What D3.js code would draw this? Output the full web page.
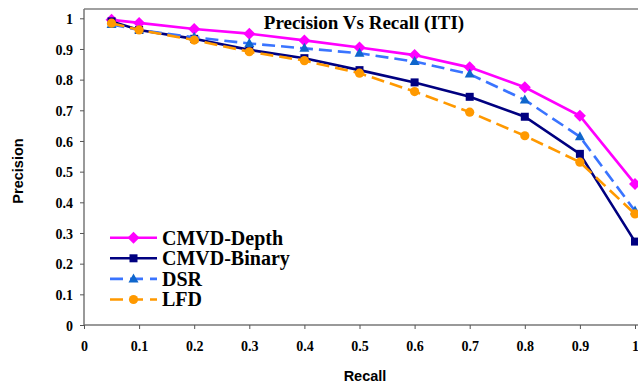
<!DOCTYPE html>
<html>
<head>
<meta charset="utf-8">
<script src="https://cdn.jsdelivr.net/npm/d3@7"></script>
<style>
body { margin: 0; background: #fff; }
svg { display: block; }
</style>
</head>
<body>
<svg width="638" height="383"></svg>
<script>
var recall = [0.05, 0.1, 0.2, 0.3, 0.4, 0.5, 0.6, 0.7, 0.8, 0.9, 1.0];
var depth  = [0.995, 0.985, 0.965, 0.95, 0.928, 0.905, 0.88, 0.84, 0.775, 0.682, 0.46];
var binary = [0.99, 0.962, 0.933, 0.897, 0.87, 0.831, 0.791, 0.744, 0.679, 0.558, 0.272];
var dsr    = [0.98, 0.962, 0.938, 0.918, 0.902, 0.886, 0.859, 0.818, 0.734, 0.614, 0.372];
var lfd    = [0.984, 0.962, 0.929, 0.891, 0.862, 0.821, 0.761, 0.694, 0.617, 0.531, 0.362];
var names  = ["CMVD-Depth", "CMVD-Binary", "DSR", "LFD"];
var xTicks = [0, 0.1, 0.2, 0.3, 0.4, 0.5, 0.6, 0.7, 0.8, 0.9, 1];
var yTicks = [0, 0.1, 0.2, 0.3, 0.4, 0.5, 0.6, 0.7, 0.8, 0.9, 1];

var svg = d3.select("svg");
var x = d3.scaleLinear().domain([0, 1]).range([84, 635]);
var y = d3.scaleLinear().domain([0, 1]).range([325, 18.3]);

var serif = "'Liberation Serif', 'Times New Roman', serif";
var sans = "'Liberation Sans', Arial, sans-serif";

// frame top
svg.append("line")
    .attr("x1", 84).attr("x2", 638).attr("y1", 9).attr("y2", 9)
    .attr("stroke", "#808080").attr("stroke-width", 1.5);

// axes
var yAxis = svg.append("g")
    .attr("transform", "translate(84,0)")
    .call(d3.axisLeft(y).tickValues(yTicks).tickSize(4).tickFormat(d3.format("~g")));
var xAxis = svg.append("g")
    .attr("transform", "translate(0,325)")
    .call(d3.axisBottom(x).tickValues(xTicks).tickSize(4).tickFormat(d3.format("~g")));

yAxis.select(".domain").attr("d", "M0,9V325").attr("stroke", "#777").attr("stroke-width", 1.5);
xAxis.select(".domain").attr("d", "M84,0H638").attr("stroke", "#777").attr("stroke-width", 1.5);
svg.selectAll(".tick line").attr("stroke", "#555");
yAxis.selectAll(".tick text")
    .attr("x", -11).attr("dy", "0.36em")
    .attr("font-family", serif).attr("font-weight", "bold").attr("font-size", 14).attr("fill", "#000");
xAxis.selectAll(".tick text")
    .attr("y", 16).attr("dy", "0.71em")
    .attr("font-family", serif).attr("font-weight", "bold").attr("font-size", 14).attr("fill", "#000");

// titles
svg.append("text")
    .attr("x", 364).attr("y", 29)
    .attr("text-anchor", "middle")
    .attr("font-family", serif).attr("font-weight", "bold").attr("font-size", 19)
    .text("Precision Vs Recall (ITI)");
svg.append("text")
    .attr("x", 365).attr("y", 381)
    .attr("text-anchor", "middle")
    .attr("font-family", sans).attr("font-weight", "bold").attr("font-size", 14.5)
    .text("Recall");
svg.append("text")
    .attr("transform", "translate(23,171) rotate(-90)")
    .attr("text-anchor", "middle")
    .attr("font-family", sans).attr("font-weight", "bold").attr("font-size", 14.5)
    .text("Precision");

var series = [
    {name: names[0], values: depth,  line: "#ff00ff", fill: "#ff00ff", dash: null,   shape: "diamond"},
    {name: names[1], values: binary, line: "#000080", fill: "#000080", dash: null,   shape: "square"},
    {name: names[2], values: dsr,    line: "#3a74ff", fill: "#0f66cc", dash: "13,6", shape: "triangle"},
    {name: names[3], values: lfd,    line: "#ff9900", fill: "#ff9900", dash: "13,6", shape: "circle"}
];

function marker(g, s, cx, cy) {
    if (s.shape == "diamond")
        g.append("path").attr("d", "M" + cx + "," + (cy - 6) + "l6,6l-6,6l-6,-6z").attr("fill", s.fill);
    else if (s.shape == "square")
        g.append("rect").attr("x", cx - 4).attr("y", cy - 4).attr("width", 8).attr("height", 8).attr("fill", s.fill);
    else if (s.shape == "triangle")
        g.append("path").attr("d", "M" + cx + "," + (cy - 5.5) + "l5,9h-10z").attr("fill", s.fill);
    else
        g.append("circle").attr("cx", cx).attr("cy", cy).attr("r", 4.6).attr("fill", s.fill);
}

var line = d3.line()
    .x(function(d, i) { return x(recall[i]); })
    .y(function(d) { return y(d); });

series.forEach(function(s) {
    var g = svg.append("g");
    g.append("path")
        .attr("d", line(s.values))
        .attr("fill", "none")
        .attr("stroke", s.line)
        .attr("stroke-width", 2.6)
        .attr("stroke-dasharray", s.dash);
    s.values.forEach(function(v, i) {
        marker(g, s, x(recall[i]), y(v));
    });
});

// legend
series.forEach(function(s, i) {
    var ly = 237.7 + i * 20.6;
    var g = svg.append("g");
    g.append("line")
        .attr("x1", 110).attr("x2", 157).attr("y1", ly).attr("y2", ly)
        .attr("stroke", s.line).attr("stroke-width", 2.6)
        .attr("stroke-dasharray", s.dash ? "13,7" : null);
    marker(g, s, 133.5, ly);
    g.append("text")
        .attr("x", 162).attr("y", ly + 6.8)
        .attr("font-family", serif).attr("font-weight", "bold").attr("font-size", 20)
        .text(s.name);
});
</script>
</body>
</html>
